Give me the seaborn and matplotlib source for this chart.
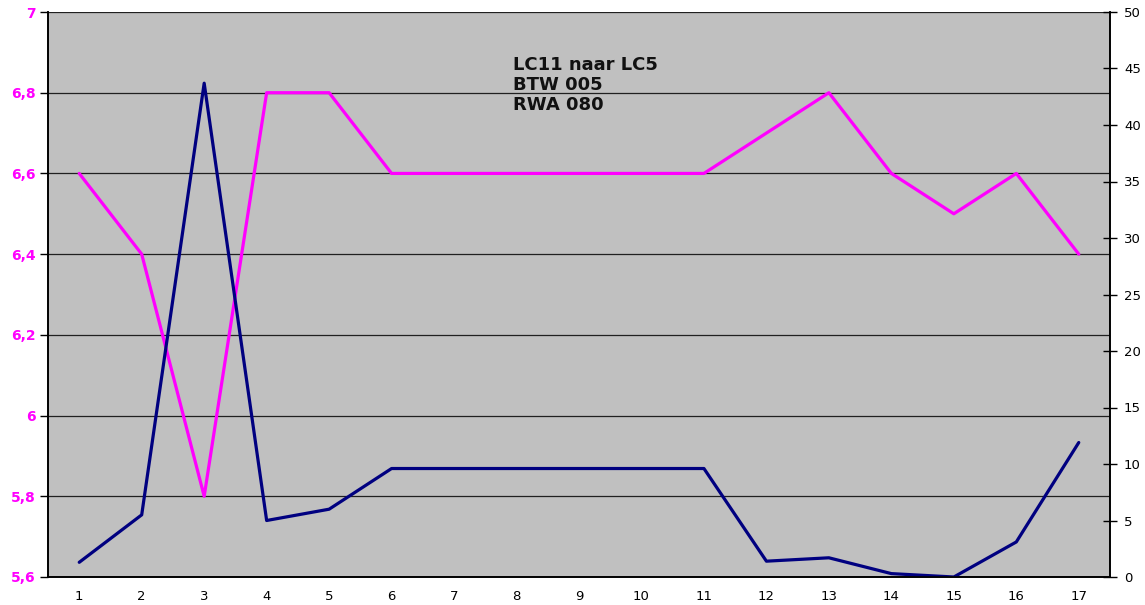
import matplotlib
matplotlib.use("Agg")
import matplotlib.pyplot as plt
from matplotlib.ticker import FixedLocator, FuncFormatter
import seaborn as sns
import pandas as pd

categories = list(range(1, 18))
magenta_vals = [6.6, 6.4, 5.8, 6.8, 6.8, 6.6, 6.6, 6.6, 6.6, 6.6, 6.6, 6.7, 6.8, 6.6, 6.5, 6.6, 6.4]
navy_vals = [1.3, 5.5, 43.7, 5.0, 6.0, 9.6, 9.6, 9.6, 9.6, 9.6, 9.6, 1.4, 1.7, 0.3, 0.0, 3.1, 11.9]
left_ticks = [5.6, 5.8, 6.0, 6.2, 6.4, 6.6, 6.8, 7.0]
right_ticks = [0, 5, 10, 15, 20, 25, 30, 35, 40, 45, 50]
annotation = ["LC11 naar LC5", "BTW 005", "RWA 080"]

df = pd.DataFrame({"cat": categories, "left": magenta_vals, "right": navy_vals})

sns.set_style("white")
plt.rcParams['font.family'] = ['DejaVu Sans']

fig = plt.figure(figsize=(11.45, 6.05), dpi=100)
ax = fig.add_axes([48/1145, 1-577/605, (1110-48)/1145, (577-12)/605])
ax.set_facecolor("#C0C0C0")
ax.set_axisbelow(True)

sns.lineplot(data=df, x="cat", y="left", ax=ax, color="#FF00FF", linewidth=2.3)
ax2 = ax.twinx()
sns.lineplot(data=df, x="cat", y="right", ax=ax2, color="#000080", linewidth=2.3)

ax.set_xlim(0.5, 17.5)
ax.set_ylim(5.6, 7.0)
ax2.set_ylim(0, 50)

ax.set_yticks(left_ticks)
ax.yaxis.set_major_formatter(FuncFormatter(lambda v, p: (f"{v:.1f}".rstrip('0').rstrip('.')).replace('.', ',')))
ax2.set_yticks(right_ticks)

ax.set_xticks(categories)
ax.xaxis.set_minor_locator(FixedLocator([c + 0.5 for c in [0] + categories]))
ax.tick_params(axis='x', which='major', length=0, labelsize=9.5, pad=9, colors='black')
ax.tick_params(axis='x', which='minor', length=8, direction='inout', width=1, color='black')
ax.tick_params(axis='y', which='major', length=6, direction='out', width=1, labelsize=10,
               labelcolor='#FF00FF', color='black', pad=3)
for lbl in ax.get_yticklabels():
    lbl.set_fontweight('bold')
ax2.tick_params(axis='y', length=10, direction='inout', width=1, labelsize=9.5, colors='black', pad=5)

ax.yaxis.grid(True, color='#202020', linewidth=0.9)
ax.xaxis.grid(False)

for a in (ax, ax2):
    for s in a.spines.values():
        s.set_color('black')
        s.set_linewidth(1.2)
    a.set_xlabel("")
    a.set_ylabel("")
ax2.spines['top'].set_visible(False)
ax.spines['top'].set_visible(False)

for i, t in enumerate(annotation):
    ax.text(513/1145, 1-(65 + 20*i)/605, t, transform=fig.transFigure, fontsize=13,
            fontweight='bold', ha='left', va='center', color='#111111')

fig.savefig("out.png", dpi=100)
